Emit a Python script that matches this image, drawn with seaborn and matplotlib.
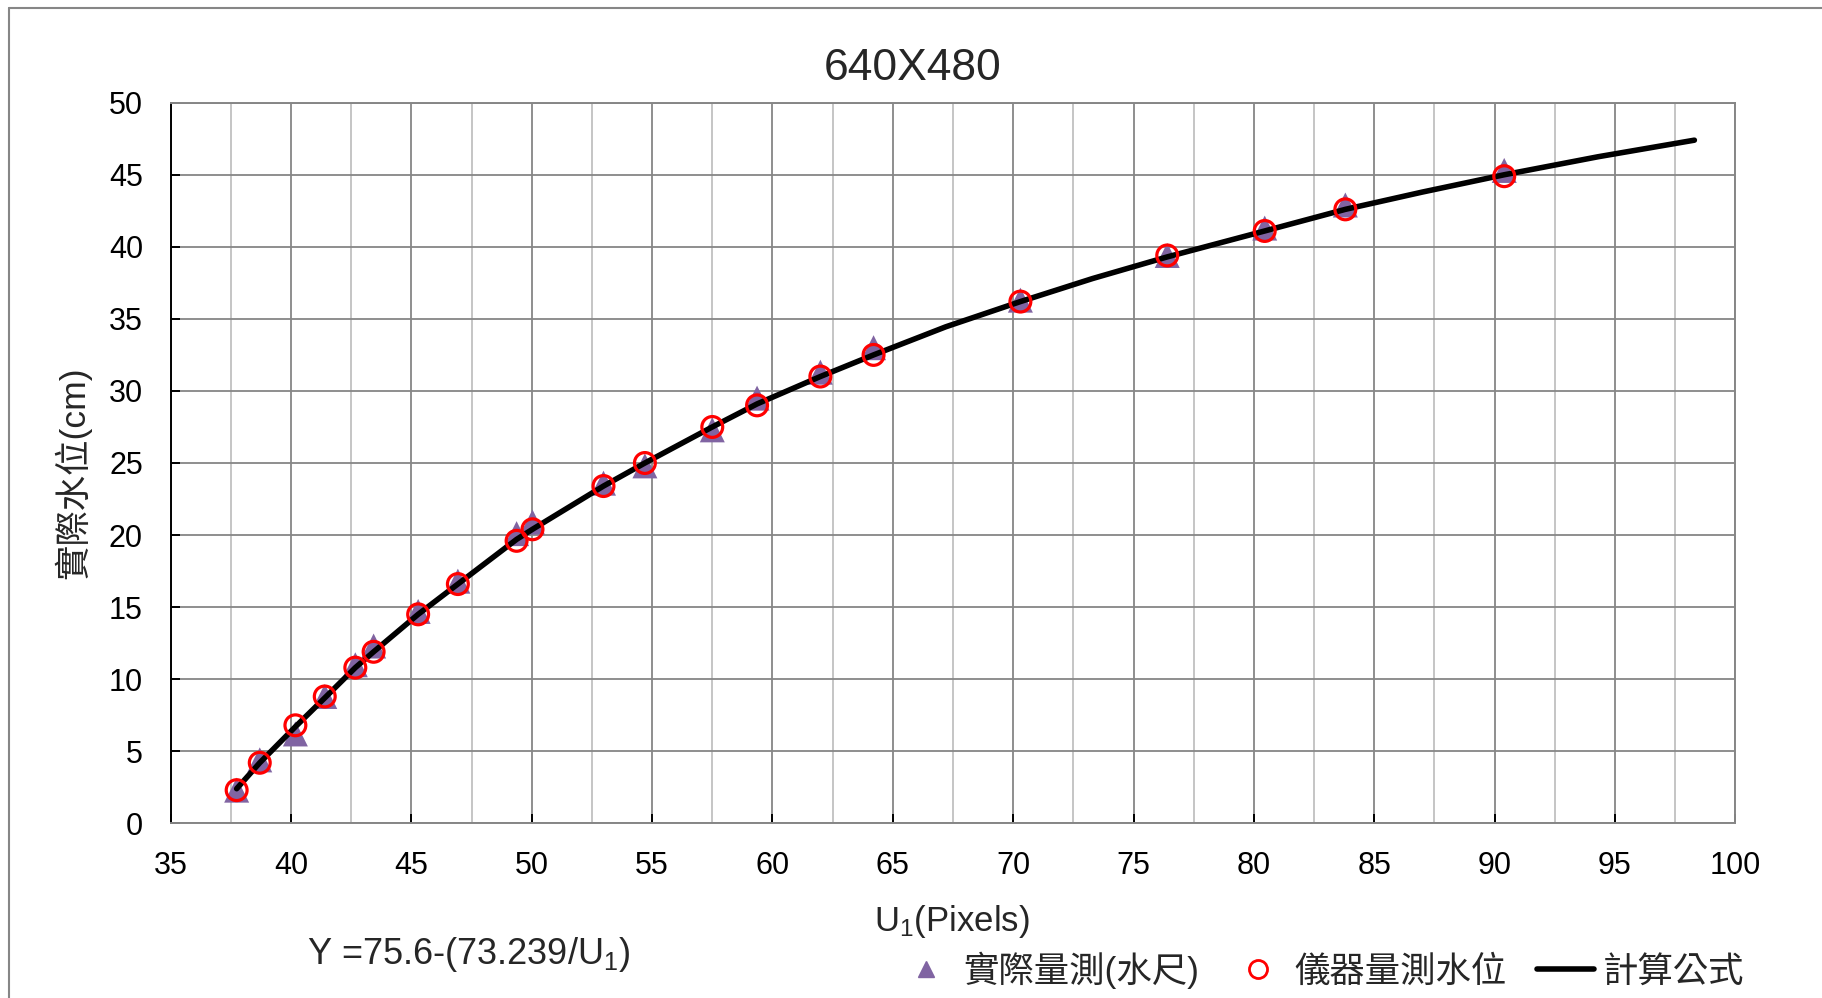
import matplotlib
matplotlib.use("Agg")
import matplotlib.pyplot as plt
from matplotlib.lines import Line2D
from matplotlib.ticker import MultipleLocator
import seaborn as sns
import pandas as pd

# ---- data ----
u_meas = [37.74, 38.7, 40.18, 41.4, 42.67, 43.43, 45.28, 46.93, 49.37, 50.03,
          52.98, 54.7, 57.5, 59.36, 61.99, 64.2, 70.3, 76.4, 80.45, 83.8, 90.4]
y_ruler = [2.3, 4.4, 6.2, 8.8, 11.0, 12.3, 14.7, 16.8, 20.1, 20.9,
           23.6, 24.8, 27.3, 29.5, 31.3, 33.0, 36.3, 39.4, 41.3, 42.9, 45.3]
y_instr = [2.3, 4.2, 6.8, 8.8, 10.8, 11.9, 14.5, 16.6, 19.6, 20.4,
           23.4, 25.0, 27.5, 29.0, 31.0, 32.5, 36.2, 39.4, 41.1, 42.6, 44.9]
u_curve = [37.74, 38.7, 40.18, 41.4, 42.67, 43.43, 45.28, 46.93, 49.37, 50.03,
           52.98, 54.7, 57.5, 59.36, 61.99, 64.2, 67.2, 70.3, 73.3, 76.4, 80.45,
           83.8, 87.0, 90.4, 94.3, 98.3]
y_curve = [2.4, 4.2, 6.7, 8.7, 10.8, 11.9, 14.5, 16.6, 19.7, 20.4,
           23.4, 25.0, 27.5, 29.1, 31.0, 32.5, 34.45, 36.2, 37.8, 39.3, 41.1,
           42.6, 43.8, 45.0, 46.25, 47.4]

title = "640X480"
xlabel = r"U$_\mathregular{1}$(Pixels)"
ylabel = "實際水位(cm)"
formula = r"Y =75.6-(73.239/U$_\mathregular{1}$)"
legend_labels = ["實際量測(水尺)", "儀器量測水位", "計算公式"]

df_meas = pd.DataFrame({"u": u_meas, "ruler": y_ruler, "instr": y_instr})
df_curve = pd.DataFrame({"u": u_curve, "y": y_curve})

sns.set_style("white")
plt.rcParams["font.family"] = ["Liberation Sans", "Noto Sans CJK TC", "DejaVu Sans"]
plt.rcParams["mathtext.fontset"] = "custom"
plt.rcParams["mathtext.rm"] = "Liberation Sans"
plt.rcParams["mathtext.it"] = "Liberation Sans:italic"

W, H = 1822, 998
fig = plt.figure(figsize=(W / 100, H / 100), dpi=100)
fig.patch.set_facecolor("white")
ax = fig.add_axes([170.7 / W, 1 - 823.3 / H, 1564.6 / W, 720.6 / H])

purple = "#8064A2"
dark_grid = "#868686"
light_grid = "#C0C0C0"

sns.scatterplot(data=df_meas, x="u", y="ruler", ax=ax, marker="^", s=18 ** 2,
                color=purple, edgecolor="none", linewidth=0, zorder=3, legend=False)
sns.lineplot(data=df_curve, x="u", y="y", ax=ax, color="black", linewidth=4,
             sort=False, estimator=None, zorder=4, legend=False)
sns.scatterplot(data=df_meas, x="u", y="instr", ax=ax, marker="o", s=15 ** 2,
                facecolor="none", edgecolor="#FF0000", linewidth=2.3, zorder=5,
                legend=False)

ax.set_xlim(35, 100)
ax.set_ylim(0, 50)
ax.xaxis.set_major_locator(MultipleLocator(5))
ax.xaxis.set_minor_locator(MultipleLocator(2.5))
ax.yaxis.set_major_locator(MultipleLocator(5))

ax.grid(which="major", axis="both", color=dark_grid, linewidth=1.3, zorder=0)
ax.grid(which="minor", axis="x", color=light_grid, linewidth=1.3, zorder=0)
ax.set_axisbelow(True)

for side in ["top", "right", "bottom"]:
    ax.spines[side].set_color(dark_grid)
    ax.spines[side].set_linewidth(1.4)
ax.spines["left"].set_color("black")
ax.spines["left"].set_linewidth(1.4)

ax.tick_params(axis="both", which="major", direction="in", length=6.5, width=1.4,
               color="black", labelsize=22, pad=20, labelcolor="black")
ax.tick_params(axis="x", which="minor", length=0)
ax.tick_params(left=True, bottom=True)

ax.set_xlabel(xlabel, fontsize=25, va="center")
ax.xaxis.set_label_coords(0.499, (823.3 - 922) / 720.6)
ax.set_ylabel(ylabel, fontsize=25.5, va="center")
ax.yaxis.set_label_coords((73 - 170.7) / 1564.6, (823.3 - 473) / 720.6)

fig.text(913 / W, 1 - 68.8 / H, title, fontsize=32, ha="center", va="center")
fig.text(468.8 / W, 1 - 955 / H, formula, fontsize=26, ha="center", va="center")

handles = [
    Line2D([], [], marker="^", color=purple, linestyle="none", markersize=12),
    Line2D([], [], marker="o", markerfacecolor="none", markeredgecolor="#FF0000",
           markeredgewidth=2, linestyle="none", markersize=13),
    Line2D([], [], color="black", linewidth=4),
]
fig.legend(handles, legend_labels, loc="center", bbox_to_anchor=(0.725, 0.028),
           ncol=3, frameon=False, fontsize=25.5, handlelength=1.6,
           handletextpad=0.25, columnspacing=0.85, borderpad=0, borderaxespad=0)

# outer chart-area border (left and top edges)
fig.add_artist(Line2D([8.5 / W, 8.5 / W], [0, 1 - 7.5 / H], color=dark_grid,
                      linewidth=1.5, transform=fig.transFigure))
fig.add_artist(Line2D([8.5 / W, 1], [1 - 7.5 / H, 1 - 7.5 / H], color=dark_grid,
                      linewidth=1.5, transform=fig.transFigure))

fig.savefig("out.png", dpi=100, facecolor="white")
